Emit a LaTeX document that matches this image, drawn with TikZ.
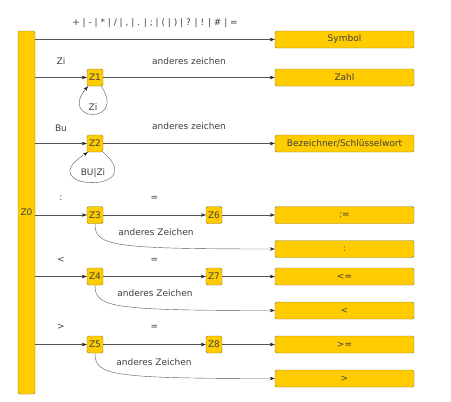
\documentclass[tikz,border=0pt]{standalone}
\usepackage{fontspec}
\setmainfont{DejaVu Sans}
\usetikzlibrary{arrows.meta}
\definecolor{zgelb}{HTML}{FFCC00}
\definecolor{zrand}{HTML}{8A7530}
\definecolor{zlinie}{HTML}{555555}
\definecolor{ztext}{HTML}{404040}
\begin{document}
\begin{tikzpicture}[x=1pt,y=-1pt,
    zustand/.style={draw=zrand,fill=zgelb,rounded corners=1.5pt,minimum width=16pt,
      minimum height=17pt,inner sep=0pt,font=\fontsize{9}{10}\selectfont,text=ztext},
    ende/.style={zustand,minimum width=139pt},
    pfeil/.style={draw=zlinie,-{Stealth[length=5pt,width=3.5pt,color=black!85]}},
    lbl/.style={font=\fontsize{9}{10}\selectfont,text=ztext,inner sep=0pt}]
            \useasboundingbox (0,0) rectangle (451,402);
            \node[zustand,minimum width=17pt,minimum height=363pt] (z0) at (26.5,212.5) {Z0};
            \node[zustand] (z1) at (95,77.5) {Z1};
            \node[zustand] (z2) at (95,143.5) {Z2};
            \node[zustand] (z3) at (95,215) {Z3};
            \node[zustand] (z4) at (95,276.5) {Z4};
            \node[zustand] (z5) at (95,344.5) {Z5};
            \node[zustand] (z6) at (214,215) {Z6};
            \node[zustand] (z7) at (214,276.5) {Z7};
            \node[zustand] (z8) at (214,344.5) {Z8};
            \node[ende] (sym) at (344.5,39.5) {Symbol};
            \node[ende] (zahl) at (344.5,77.5) {Zahl};
            \node[ende] (bez) at (344.5,143.5) {Bezeichner/Schlüsselwort};
            \node[ende] (zuw) at (344.5,215) {:=};
            \node[ende] (dpkt) at (344.5,249) {:};
            \node[ende] (kg) at (344.5,276.5) {<=};
            \node[ende] (kl) at (344.5,310.5) {<};
            \node[ende] (gg) at (344.5,344.5) {>=};
            \node[ende] (gr) at (344.5,378.5) {>};
            % Symbol
            \draw[pfeil] (z0.east |- sym) -- (sym);
            \node[lbl] (lsym) at (155,23) {+ | - | * | / | , | . | ; | ( | ) | ? | ! | \# | =};
            % Zahl
            \draw[pfeil] (z0.east |- z1) -- (z1) node[lbl,midway,yshift=16.5pt] (lzi) {Zi};
            \draw[pfeil] (z1) -- (zahl) node[lbl,midway,yshift=16.5pt] (lz1) {anderes zeichen};
            \draw[pfeil] ([xshift=-2pt]z1.south east) .. controls (127,125) and (58,122) .. ([xshift=-7pt]z1.south);
            \node[lbl] (lz1s) at (93,107.5) {Zi};
            % Bezeichner
            \draw[pfeil] (z0.east |- z2) -- (z2) node[lbl,midway,yshift=15pt] (lbu) {Bu};
            \draw[pfeil] (z2) -- (bez) node[lbl,midway,yshift=17pt] (lz2) {anderes zeichen};
            \draw[pfeil] (z2.south east) .. controls (152,195) and (28,190) .. ([xshift=-7pt]z2.south);
            \node[lbl] (lz2s) at (93,173.5) {BU|Zi};
            % :=
            \draw[pfeil] (z0.east |- z3) -- (z3) node[lbl,midway,yshift=17pt] (ldp) {:};
            \draw[pfeil] (z3) -- (z6) node[lbl,midway,yshift=17pt] (lgl1) {=};
            \draw[pfeil] (z6) -- (zuw);
            \draw[pfeil] (z3.south) .. controls +(0,22) and +(-165,0) .. (dpkt.west);
            \node[lbl] (la3) at (156,232) {anderes Zeichen};
            % <=
            \draw[pfeil] (z0.east |- z4) -- (z4) node[lbl,midway,yshift=16.5pt] (lkl) {<};
            \draw[pfeil] (z4) -- (z7) node[lbl,midway,yshift=16.5pt] (lgl2) {=};
            \draw[pfeil] (z7) -- (kg);
            \draw[pfeil] (z4.south) .. controls +(0,22) and +(-165,0) .. (kl.west);
            \node[lbl] (la4) at (155,293) {anderes Zeichen};
            % >=
            \draw[pfeil] (z0.east |- z5) -- (z5) node[lbl,midway,yshift=17.5pt] (lgr) {>};
            \draw[pfeil] (z5) -- (z8) node[lbl,midway,yshift=17.5pt] (lgl3) {=};
            \draw[pfeil] (z8) -- (gg);
            \draw[pfeil] (z5.south) .. controls +(0,22) and +(-165,0) .. (gr.west);
            \node[lbl] (la5) at (154,362) {anderes Zeichen};
\end{tikzpicture}
\end{document}
